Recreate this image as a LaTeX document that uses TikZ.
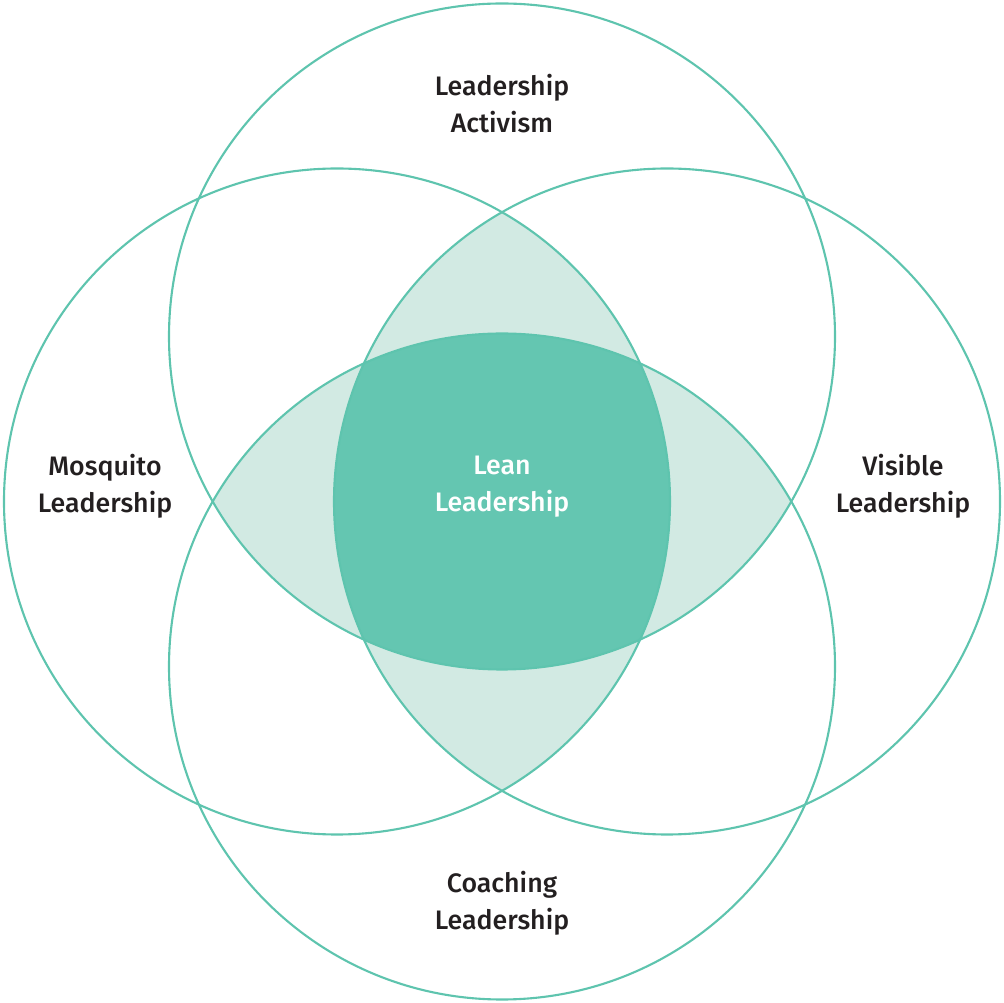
\documentclass[tikz,border=0pt]{standalone}
\usepackage{fontspec}
\setmainfont{Fira Sans}[UprightFont=* Medium]
\usetikzlibrary{calc}

\definecolor{tealline}{HTML}{5EC4AE}
\definecolor{tealdark}{HTML}{64C6B1}
\definecolor{teallight}{HTML}{D2EAE3}
\definecolor{textgray}{HTML}{231F20}

\begin{document}
\begin{tikzpicture}[x=0.025cm,y=0.025cm,
	ring/.style={draw=tealline,line width=1.5pt},
	lbl/.style={align=center,text=textgray,font=\fontsize{19}{26}\selectfont}]
	\useasboundingbox (-502,-501.5) rectangle (502,501.5);
	
	%centres
	\coordinate (T) at (0,165);
	\coordinate (L) at (-165,0);
	\coordinate (R) at (165,0);
	\coordinate (B) at (0,-165);
	
	%light lenses
	\begin{scope}
		\clip (T) circle (333);
		\fill[teallight] (B) circle (333);
	\end{scope}
	\begin{scope}
		\clip (L) circle (333);
		\fill[teallight] (R) circle (333);
	\end{scope}
	
	%dark core
	\begin{scope}
		\clip (T) circle (333);
		\clip (B) circle (333);
		\clip (L) circle (333);
		\fill[tealdark] (R) circle (333);
	\end{scope}
	
	%circles
	\draw[ring] (T) circle (333);
	\draw[ring] (L) circle (333);
	\draw[ring] (R) circle (333);
	\draw[ring] (B) circle (333);
	
	%labels
	\node[lbl] (activism) at (0,398) {Leadership\\Activism};
	\node[lbl] (mosquito) at (-397,15) {Mosquito\\Leadership};
	\node[lbl] (visible) at (401,15) {Visible\\Leadership};
	\node[lbl] (coaching) at (0,-402) {Coaching\\Leadership};
	\node[lbl,text=white] (lean) at (0,15) {Lean\\Leadership};
\end{tikzpicture}
\end{document}
